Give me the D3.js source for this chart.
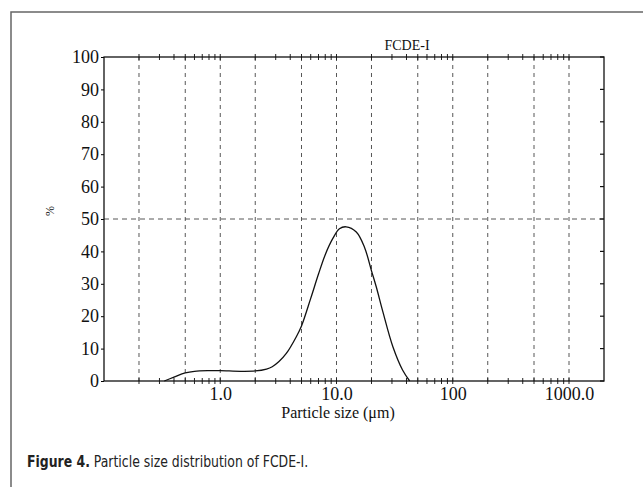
<!DOCTYPE html>
<html>
<head>
<meta charset="utf-8">
<script src="https://cdn.jsdelivr.net/npm/d3@7"></script>
<style>
  body { margin: 0; background: #fff; }
  svg { display: block; }
</style>
</head>
<body>
<div id="chart"></div>
<script>
// particle size (um) and volume %
var sizes = [0.33, 0.4, 0.5, 0.6, 0.8, 1.0, 1.5, 2.0, 2.5, 2.8, 3.2, 3.7, 4.5, 5.0, 6.0, 7.0, 8.0, 9.3, 10.6, 12.1, 14.8, 17.4, 20, 22, 25, 30.6, 37, 42.6];
var percents = [0, 1.2, 2.5, 3.0, 3.2, 3.2, 3.0, 3.1, 3.7, 4.4, 6.0, 8.5, 13.6, 17, 25.5, 33, 39, 44, 47, 47.6, 46, 41.3, 34, 29, 21.5, 10.5, 3.4, 0];

var xTickValues = [1, 10, 100, 1000];
var xTickLabels = ["1.0", "10.0", "100", "1000.0"];
var gridValues = [0.2, 0.5, 1, 2, 5, 10, 20, 50, 100, 200, 500, 1000];
var yTickValues = [0, 10, 20, 30, 40, 50, 60, 70, 80, 90, 100];

var serif = "'Liberation Serif', 'Times New Roman', Times, 'Nimbus Roman', serif";

function init() {
    var w = 643;
    var h = 487;
    var left = 104, right = 604, top = 57, bottom = 381;

    var svg = d3.select("#chart")
        .append("svg")
        .attr("width", w)
        .attr("height", h);

    // outer frame (cropped on right and bottom)
    svg.append("rect")
        .attr("x", 11)
        .attr("y", 12)
        .attr("width", 700)
        .attr("height", 600)
        .attr("fill", "none")
        .attr("stroke", "#666")
        .attr("stroke-width", 1.5);

    var x = d3.scaleLog().domain([0.1, 2000]).range([left, right]);
    var y = d3.scaleLinear().domain([0, 100]).range([bottom, top]);

    // vertical dashed grid
    svg.selectAll("line.grid")
        .data(gridValues)
        .enter()
        .append("line")
        .attr("class", "grid")
        .attr("x1", function(d) { return x(d); })
        .attr("x2", function(d) { return x(d); })
        .attr("y1", top)
        .attr("y2", bottom)
        .attr("stroke", "#444")
        .attr("stroke-width", 0.9)
        .attr("stroke-dasharray", "4,4");

    // 50% dashed line
    svg.append("line")
        .attr("x1", left)
        .attr("x2", right)
        .attr("y1", y(50))
        .attr("y2", y(50))
        .attr("stroke", "#444")
        .attr("stroke-width", 0.9)
        .attr("stroke-dasharray", "5,4");

    // minor log ticks on top and bottom
    var minor = x.ticks().filter(function(d) { return d > 0.1 && d < 2000; });
    [top, bottom].forEach(function(yy) {
        svg.append("g")
            .selectAll("line")
            .data(minor)
            .enter()
            .append("line")
            .attr("x1", function(d) { return x(d); })
            .attr("x2", function(d) { return x(d); })
            .attr("y1", yy - 3)
            .attr("y2", yy + 3)
            .attr("stroke", "#222")
            .attr("stroke-width", 1);
    });

    // left y axis
    var yAxis = d3.axisLeft(y)
        .tickValues(yTickValues)
        .tickSize(3)
        .tickPadding(2);
    var gy = svg.append("g")
        .attr("transform", "translate(" + left + ",0)")
        .call(yAxis);
    gy.select(".domain").remove();
    gy.selectAll("text")
        .style("font-family", serif)
        .style("font-size", "18px")
        .attr("fill", "#111");

    // right ticks pointing inward
    svg.append("g")
        .selectAll("line")
        .data(yTickValues)
        .enter()
        .append("line")
        .attr("x1", right - 4)
        .attr("x2", right)
        .attr("y1", function(d) { return y(d); })
        .attr("y2", function(d) { return y(d); })
        .attr("stroke", "#111")
        .attr("stroke-width", 1.2);

    // bottom x labels
    var xAxis = d3.axisBottom(x)
        .tickValues(xTickValues)
        .tickFormat(function(d, i) { return xTickLabels[i]; })
        .tickSize(0)
        .tickPadding(6);
    var gx = svg.append("g")
        .attr("transform", "translate(0," + bottom + ")")
        .call(xAxis);
    gx.select(".domain").remove();
    gx.selectAll("text")
        .style("font-family", serif)
        .style("font-size", "18px")
        .attr("fill", "#111");

    // plot box
    svg.append("rect")
        .attr("x", left)
        .attr("y", top)
        .attr("width", right - left)
        .attr("height", bottom - top)
        .attr("fill", "none")
        .attr("stroke", "#111")
        .attr("stroke-width", 1.3);

    // distribution curve
    var data = sizes.map(function(s, i) { return { size: s, pct: percents[i] }; });
    var line = d3.line()
        .x(function(d) { return x(d.size); })
        .y(function(d) { return y(d.pct); })
        .curve(d3.curveCatmullRom.alpha(0.5));
    svg.append("path")
        .datum(data)
        .attr("d", line)
        .attr("fill", "none")
        .attr("stroke", "#111")
        .attr("stroke-width", 1.3);

    // title
    svg.append("text")
        .attr("x", 407)
        .attr("y", 50)
        .attr("text-anchor", "middle")
        .style("font-family", serif)
        .style("font-size", "14px")
        .attr("fill", "#111")
        .text("FCDE-I");

    // axis titles
    svg.append("text")
        .attr("x", 338)
        .attr("y", 418)
        .attr("text-anchor", "middle")
        .style("font-family", serif)
        .style("font-size", "16px")
        .attr("fill", "#111")
        .text("Particle size (μm)");

    svg.append("text")
        .attr("transform", "translate(54,211) rotate(-90)")
        .attr("text-anchor", "middle")
        .style("font-family", serif)
        .style("font-size", "12px")
        .attr("fill", "#111")
        .text("%");

    // caption, condensed sans
    var cap = svg.append("text")
        .attr("transform", "translate(27,467) scale(0.84,1)")
        .style("font-family", "'Liberation Sans Narrow', 'DejaVu Sans Condensed', 'Roboto Condensed', sans-serif")
        .style("font-size", "16.5px")
        .attr("fill", "#222");
    cap.append("tspan").style("font-weight", "bold").text("Figure 4.");
    cap.append("tspan").text(" Particle size distribution of FCDE-I.");
}

window.onload = init;
</script>
</body>
</html>
